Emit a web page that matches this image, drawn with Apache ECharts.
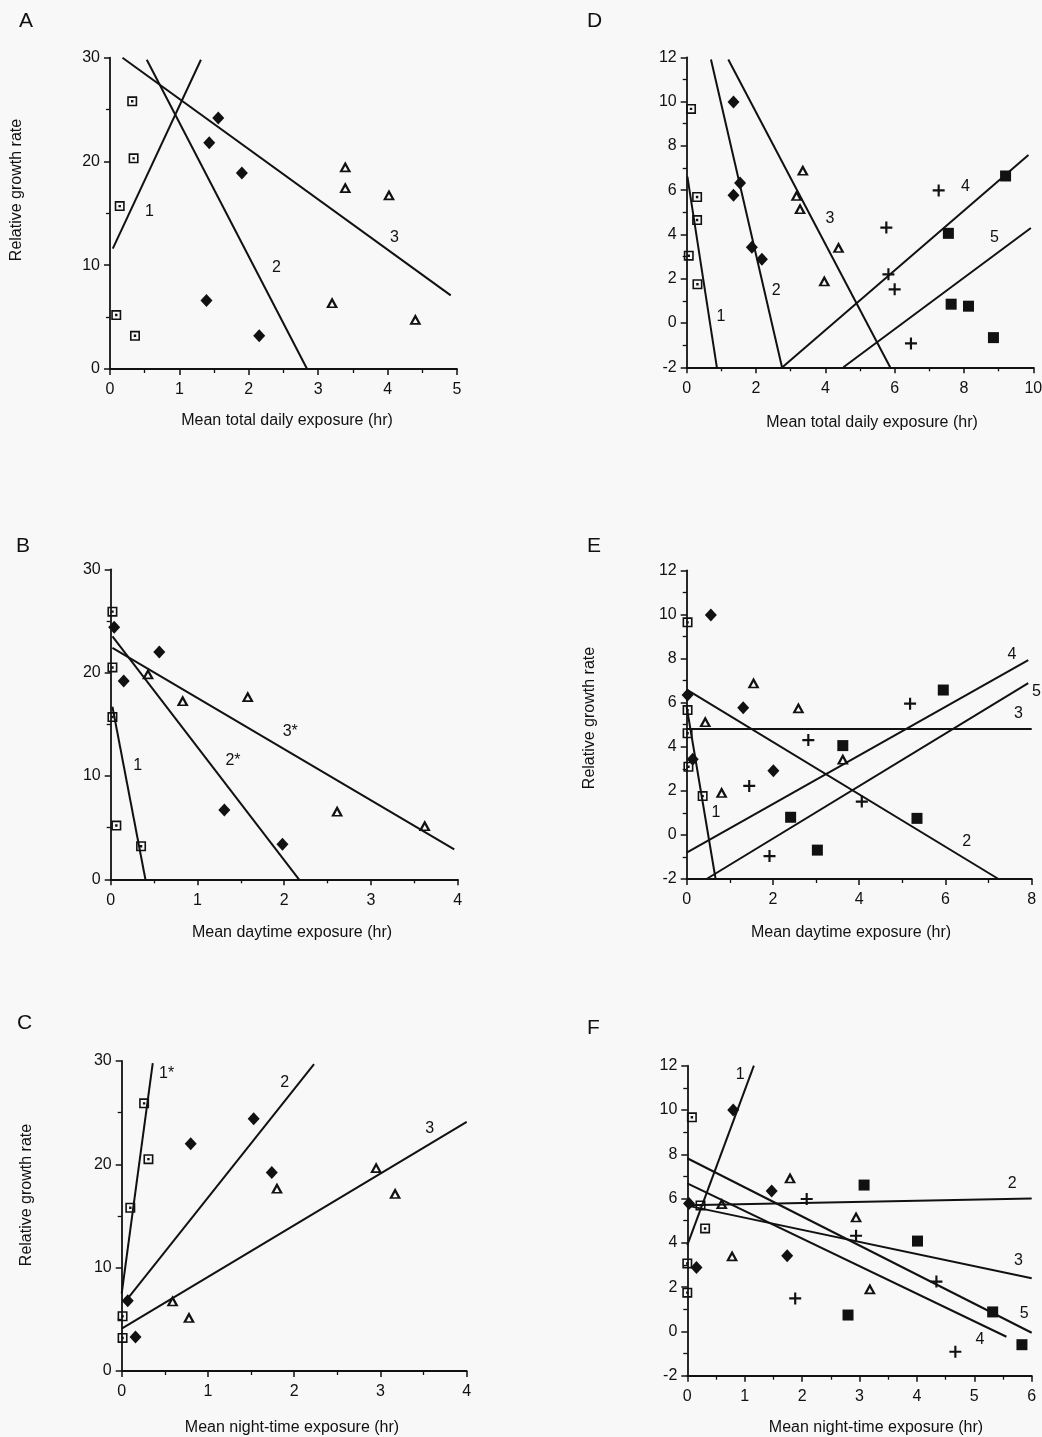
<!DOCTYPE html>
<html><head><meta charset="utf-8">
<script src="https://cdn.jsdelivr.net/npm/echarts@6/dist/echarts.min.js"></script>
<style>html,body{margin:0;padding:0;background:#f8f8f8}#c{width:1042px;height:1437px}</style>
</head><body><div id="c"></div>
<script>
// ---------- DATA ----------
// Panel A: mean total daily exposure (hr) vs relative growth rate
const A_squares   = [[0.32,25.8],[0.34,20.3],[0.14,15.7],[0.09,5.2],[0.36,3.2]];
const A_diamonds  = [[1.56,24.2],[1.43,21.8],[1.90,18.9],[1.39,6.6],[2.15,3.2]];
const A_triangles = [[3.39,19.5],[3.39,17.5],[4.02,16.8],[3.20,6.4],[4.40,4.8]];
const A_lines  = [[0.04,11.6,1.31,29.8],[0.53,29.8,2.84,0],[0.18,30,4.91,7.1]];
const A_labels = [[0.57,15.2,'1'],[2.40,9.8,'2'],[4.10,12.7,'3']];

// Panel B: mean daytime exposure (hr)
const B_squares   = [[0.02,25.9],[0.02,20.5],[0.02,15.7],[0.065,5.2],[0.35,3.2]];
const B_diamonds  = [[0.04,24.4],[0.56,22.0],[0.15,19.2],[1.31,6.7],[1.98,3.4]];
const B_triangles = [[0.43,19.9],[0.83,17.3],[1.58,17.7],[2.61,6.6],[3.62,5.2]];
const B_lines  = [[0.02,16.7,0.40,0],[0.02,23.5,2.17,0],[0.02,22.4,3.96,2.9]];
const B_labels = [[0.31,11.0,'1'],[1.41,11.5,'2*'],[2.07,14.3,'3*']];

// Panel C: mean night-time exposure (hr)
const C_squares   = [[0.26,25.9],[0.31,20.5],[0.10,15.8],[0.01,5.3],[0.01,3.2]];
const C_diamonds  = [[1.53,24.4],[0.80,22.0],[1.74,19.2],[0.07,6.8],[0.16,3.3]];
const C_triangles = [[2.95,19.7],[1.80,17.7],[3.17,17.2],[0.59,6.8],[0.78,5.2]];
const C_lines  = [[0.0,7.5,0.36,29.8],[0.03,6.6,2.23,29.7],[0.0,4.1,4.0,24.1]];
const C_labels = [[0.52,28.8,'1*'],[1.89,27.9,'2'],[3.57,23.5,'3']];

// Panel D: mean total daily exposure (hr)
const D_squares   = [[0.125,9.67],[0.30,5.69],[0.30,4.65],[0.06,3.04],[0.31,1.75]];
const D_diamonds  = [[1.35,9.98],[1.54,6.32],[1.35,5.77],[1.88,3.42],[2.17,2.88]];
const D_triangles = [[3.35,6.91],[3.17,5.77],[3.27,5.17],[4.38,3.42],[3.97,1.91]];
const D_plus      = [[7.27,5.99],[5.76,4.31],[5.82,2.20],[6.00,1.52],[6.47,-0.92]];
const D_filled    = [[9.20,6.64],[7.55,4.05],[7.63,0.85],[8.13,0.76],[8.85,-0.66]];
const D_lines  = [[0.02,6.61,0.87,-2],[0.70,11.9,2.75,-2],[1.20,11.9,5.87,-2],[2.76,-2,9.86,7.59],[4.52,-2,9.93,4.29]];
const D_labels = [[0.99,0.3,'1'],[2.58,1.46,'2'],[4.13,4.71,'3'],[8.04,6.16,'4'],[8.88,3.87,'5']];

// Panel E: mean daytime exposure (hr)
const E_squares   = [[0.02,9.64],[0.02,5.66],[0.02,4.61],[0.04,3.09],[0.37,1.76]];
const E_diamonds  = [[0.56,9.97],[0.02,6.35],[1.31,5.77],[0.14,3.43],[2.01,2.91]];
const E_triangles = [[1.55,6.90],[2.59,5.77],[0.43,5.14],[3.62,3.44],[0.81,1.93]];
const E_plus      = [[5.18,5.95],[2.82,4.30],[1.45,2.22],[4.06,1.51],[1.92,-0.96]];
const E_filled    = [[5.95,6.57],[3.62,4.05],[2.41,0.80],[5.34,0.75],[3.03,-0.69]];
const E_lines  = [[0.0,5.8,0.67,-2],[0.02,6.57,7.23,-2],[0.0,4.8,8.0,4.8],[0.0,-0.8,7.92,7.93],[0.46,-2,7.92,6.88]];
const E_labels = [[0.68,1.0,'1'],[6.49,-0.3,'2'],[7.69,5.51,'3'],[7.54,8.16,'4'],[8.11,6.49,'5']];

// Panel F: mean night-time exposure (hr)
const F_squares   = [[0.08,9.67],[0.23,5.69],[0.31,4.65],[0.0,3.07],[0.0,1.75]];
const F_diamonds  = [[0.80,10.0],[0.03,5.78],[1.47,6.34],[1.74,3.42],[0.16,2.89]];
const F_triangles = [[1.79,6.94],[0.60,5.78],[2.94,5.18],[0.78,3.42],[3.18,1.93]];
const F_plus      = [[2.08,5.98],[2.94,4.32],[4.34,2.25],[1.88,1.49],[4.67,-0.92]];
const F_filled    = [[3.08,6.61],[4.01,4.08],[2.80,0.74],[5.32,0.88],[5.83,-0.60]];
const F_lines  = [[0.0,3.9,1.16,12.0],[0.0,5.7,6.0,6.0],[0.0,5.68,6.0,2.4],[0.0,6.69,5.56,-0.24],[0.0,7.82,6.0,-0.06]];
const F_labels = [[0.92,11.58,'1'],[5.66,6.69,'2'],[5.77,3.18,'3'],[5.10,-0.39,'4'],[5.87,0.82,'5']];

// Axis ranges: [min, max, major interval, minor interval]
const X_total_A = [0,5,1,0.5],  Y_A = [0,30,10,5];
const X_day_B   = [0,4,1,0.5],  Y_B = [0,30,10,5];
const X_night_C = [0,4,1,0.5],  Y_C = [0,30,10,5];
const X_total_D = [0,10,2,1],   Y_D = [-2,12,2,1];
const X_day_E   = [0,8,2,1],    Y_E = [-2,12,2,1];
const X_night_F = [0,6,1,0.5],  Y_F = [-2,12,2,1];

// ---------- STYLE / LAYOUT ----------
const INK = '#111111';
const FONT = '"Liberation Sans", Arial, Helvetica, sans-serif';
const SYM = {
  sq:  'path://M0,0H10V10H0Z M1.6,1.6V8.4H8.4V1.6Z M3.8,3.8H6.2V6.2H3.8Z',
  tri: 'path://M5,0L10,9L0,9Z M5,3.9L2.9,7.7L7.1,7.7Z',
  plus:'path://M4.1,0H5.9V4.1H10V5.9H5.9V10H4.1V5.9H0V4.1H4.1Z'
};
const panels = [
  {L:'A', grid:{left:110,top:57.7,width:347,height:311.3}, X:X_total_A, Y:Y_A,
   pts:[[A_squares,'sq'],[A_diamonds,'dia'],[A_triangles,'tri']], lines:A_lines, labels:A_labels,
   letter:[27,23], xt:['Mean total daily exposure (hr)',287,421], yt:[17,190]},
  {L:'D', grid:{left:686.7,top:57.3,width:346.6,height:310}, X:X_total_D, Y:Y_D,
   pts:[[D_squares,'sq'],[D_diamonds,'dia'],[D_triangles,'tri'],[D_plus,'plus'],[D_filled,'fsq']], lines:D_lines, labels:D_labels,
   letter:[595,23], xt:['Mean total daily exposure (hr)',872,423], yt:null},
  {L:'B', grid:{left:110.7,top:569.3,width:347,height:310}, X:X_day_B, Y:Y_B,
   pts:[[B_squares,'sq'],[B_diamonds,'dia'],[B_triangles,'tri']], lines:B_lines, labels:B_labels,
   letter:[24,548], xt:['Mean daytime exposure (hr)',292,933], yt:null},
  {L:'E', grid:{left:686.7,top:570.3,width:345,height:308.7}, X:X_day_E, Y:Y_E,
   pts:[[E_squares,'sq'],[E_diamonds,'dia'],[E_triangles,'tri'],[E_plus,'plus'],[E_filled,'fsq']], lines:E_lines, labels:E_labels,
   letter:[595,548], xt:['Mean daytime exposure (hr)',851,933], yt:[590,718]},
  {L:'C', grid:{left:121.7,top:1061,width:345,height:310}, X:X_night_C, Y:Y_C,
   pts:[[C_squares,'sq'],[C_diamonds,'dia'],[C_triangles,'tri']], lines:C_lines, labels:C_labels,
   letter:[25,1025], xt:['Mean night-time exposure (hr)',292,1428], yt:[27,1195]},
  {L:'F', grid:{left:687.3,top:1065.7,width:344.4,height:310}, X:X_night_F, Y:Y_F,
   pts:[[F_squares,'sq'],[F_diamonds,'dia'],[F_triangles,'tri'],[F_plus,'plus'],[F_filled,'fsq']], lines:F_lines, labels:F_labels,
   letter:[595,1030], xt:['Mean night-time exposure (hr)',876,1428], yt:null}
];

function axis(r, isX, gi) {
  return {
    type:'value', gridIndex:gi, min:r[0], max:r[1], interval:r[2],
    axisLine:{show:true, onZero:false, lineStyle:{color:INK, width:1.8}},
    axisTick:{show:true, length:6, lineStyle:{color:INK, width:1.5}},
    minorTick:{show:true, splitNumber:Math.round(r[2]/r[3]), length:4, lineStyle:{color:INK, width:1.3}},
    splitLine:{show:false}, minorSplitLine:{show:false},
    axisLabel:{color:INK, fontSize:16, fontFamily:FONT, margin:isX?13:10, showMinLabel:true, showMaxLabel:true}
  };
}
function symStyle(kind){
  if (kind==='dia') return {symbol:'diamond', symbolSize:[12,13]};
  if (kind==='fsq') return {symbol:'rect', symbolSize:11};
  if (kind==='plus') return {symbol:SYM.plus, symbolSize:12};
  if (kind==='tri') return {symbol:SYM.tri, symbolSize:[12,11]};
  return {symbol:SYM.sq, symbolSize:10};
}

const grids=[], xAxes=[], yAxes=[], series=[], graphics=[];
panels.forEach((p,i)=>{
  grids.push(Object.assign({outerBoundsMode:'none', containLabel:false}, p.grid));
  xAxes.push(axis(p.X,true,i));
  yAxes.push(axis(p.Y,false,i));
  p.lines.forEach(l=>{
    series.push({type:'line', xAxisIndex:i, yAxisIndex:i, data:[[l[0],l[1]],[l[2],l[3]]],
      symbol:'none', clip:false, silent:true, z:2, lineStyle:{color:INK, width:2}});
  });
  p.pts.forEach(([d,kind])=>{
    series.push(Object.assign({type:'scatter', xAxisIndex:i, yAxisIndex:i, data:d, clip:false, z:3,
      itemStyle:{color:INK, opacity:1}}, symStyle(kind)));
  });
  series.push({type:'scatter', xAxisIndex:i, yAxisIndex:i, clip:false, z:4, symbolSize:1,
    itemStyle:{color:'#f8f8f8', opacity:0.01},
    data:p.labels.map(t=>({value:[t[0],t[1]], name:t[2]})),
    label:{show:true, position:'inside', formatter:'{b}', color:INK, opacity:1,
      textBorderWidth:0, textBorderColor:'transparent', fontSize:16, fontFamily:FONT}});
  graphics.push({type:'text', left:p.letter[0]-8, top:p.letter[1]-12,
    style:{text:p.L, font:'21px '+FONT, fill:INK}});
  graphics.push({type:'text', x:p.xt[1], y:p.xt[2],
    style:{text:p.xt[0], font:'16px '+FONT, fill:INK, align:'center', verticalAlign:'middle'}});
  if (p.yt) graphics.push({type:'text', x:p.yt[0], y:p.yt[1], rotation:Math.PI/2,
    style:{text:'Relative growth rate', font:'16px '+FONT, fill:INK, align:'center', verticalAlign:'middle'}});
});

const chart = echarts.init(document.getElementById('c'), null, {renderer:'canvas'});
chart.setOption({
  backgroundColor:'#f8f8f8', animation:false,
  grid:grids, xAxis:xAxes, yAxis:yAxes, series:series, graphic:graphics
});
</script></body></html>
